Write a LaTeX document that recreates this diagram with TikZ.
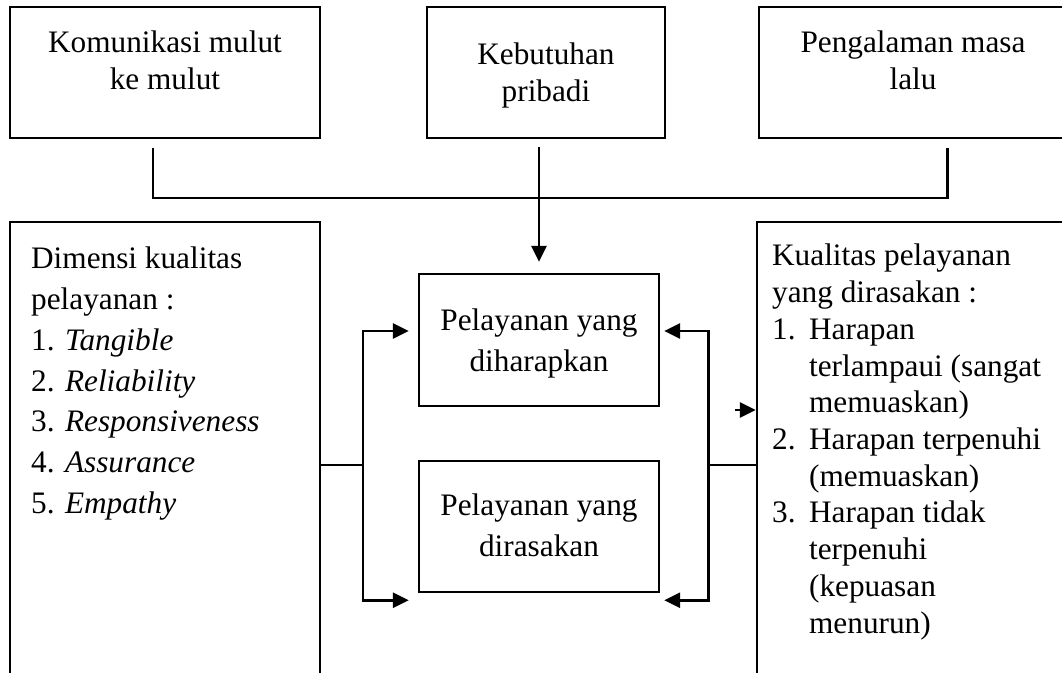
\documentclass[tikz,border=0pt]{standalone}
\usepackage{fontspec}
\setmainfont{Liberation Serif}
\usetikzlibrary{arrows.meta, positioning, calc}
\tikzset{
    box/.style={
        rectangle,
        draw=black,
        line width=1.4pt,
        inner sep=0pt
    },
    boxtext/.style={
        inner sep=0pt,
        align=center,
        font={\fontsize{17.8}{21}\selectfont}
    },
    listtext/.style={
        inner sep=0pt,
        align=left,
        font={\fontsize{17.8}{20.9}\selectfont}
    },
    conn/.style={
        draw=black,
        line width=1.7pt
    },
    arrow/.style={
        conn,
        -{Triangle[length=0.32cm, width=0.3cm]}
    }
}

\begin{document}
\begin{tikzpicture}[x=0.02cm, y=-0.02cm]
\useasboundingbox (0,0) rectangle (1062,673);
\clip (0,0) rectangle (1062,673);

% Top row - what shapes the expectation
\node[box, minimum width=6.2cm, minimum height=2.62cm] (kom) at (165,72.5) {};
\node[boxtext, below=0.5cm of kom.north] {Komunikasi mulut\\ke mulut};

\node[box, minimum width=4.76cm, minimum height=2.62cm] (keb) at (546,72.5) {};
\node[boxtext, below=0.74cm of keb.north] {Kebutuhan\\pribadi};

\node[box, minimum width=6.16cm, minimum height=2.62cm] (pen) at (913,72.5) {};
\node[boxtext, below=0.5cm of pen.north] {Pengalaman masa\\lalu};

% Side boxes - they run past the page edge
\node[box, minimum width=6.2cm, minimum height=9.6cm] (dim) at (165,462) {};
\node[listtext, font={\fontsize{17.8}{23.2}\selectfont}, below right=0.52cm and 0.44cm of dim.north west] {Dimensi kualitas\\pelayanan :\\1. \textit{Tangible}\\2. \textit{Reliability}\\3. \textit{Responsiveness}\\4. \textit{Assurance}\\5. \textit{Empathy}};

\node[box, minimum width=6.2cm, minimum height=9.6cm] (kual) at (912,462) {};
\node[listtext, below right=0.46cm and 0.32cm of kual.north west] {Kualitas pelayanan\\yang dirasakan :\\\makebox[0.74cm][l]{1.}Harapan\\\hspace*{0.74cm}terlampaui (sangat\\\hspace*{0.74cm}memuaskan)\\\makebox[0.74cm][l]{2.}Harapan terpenuhi\\\hspace*{0.74cm}(memuaskan)\\\makebox[0.74cm][l]{3.}Harapan tidak\\\hspace*{0.74cm}terpenuhi\\\hspace*{0.74cm}(kepuasan\\\hspace*{0.74cm}menurun)};

% Middle - the two services
\node[box, minimum width=4.8cm, minimum height=2.64cm] (harap) at (539,340) {};
\node[boxtext, font={\fontsize{17.8}{23.3}\selectfont}, below=0.72cm of harap.north] {Pelayanan yang\\diharapkan};

\node[box, minimum width=4.8cm, minimum height=2.62cm] (rasa) at (539,526.5) {};
\node[boxtext, font={\fontsize{17.8}{23.3}\selectfont}, below=0.68cm of rasa.north] {Pelayanan yang\\dirasakan};

\coordinate (jl) at (153,198);
\coordinate (jr) at (947,198);
\coordinate (lj) at (363,465);
\coordinate (rj) at (708,465);
\coordinate (stub) at (735,410);

% Connections
\draw[conn, shorten <=0.18cm, shorten >=0.18cm] (kom.south -| jl) -- (jl) -- (jr) -- (pen.south -| jr);
\draw[arrow, shorten <=0.16cm, shorten >=0.22cm] (keb.south -| harap.north) -- (harap.north);

\draw[conn] (dim.east |- lj) -- (lj);
\draw[arrow] (lj) |- ($(harap.west)+(-9,-9)$);
\draw[arrow] (lj) |- ($(rasa.south west)+(-9,7)$);

\draw[conn] (kual.west |- rj) -- (rj);
\draw[arrow] (rj) |- ($(harap.east)+(4,-9)$);
\draw[arrow] (rj) |- ($(rasa.south east)+(4,7)$);

\draw[arrow] (stub) -- (kual.west |- stub);

\end{tikzpicture}
\end{document}
